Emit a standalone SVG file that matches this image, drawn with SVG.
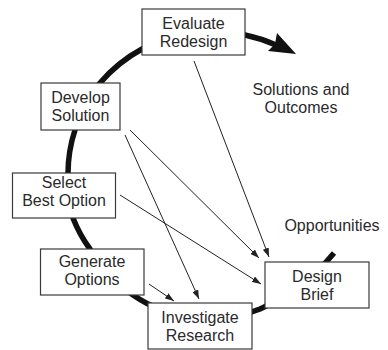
<svg xmlns="http://www.w3.org/2000/svg" width="388" height="350" viewBox="0 0 388 350">
<style>
.box{fill:#fff;stroke:#3a3a3a;stroke-width:1.2}
.t{font-family:"Liberation Sans",Arial,sans-serif;font-size:16px;fill:#2a2a2a;text-anchor:middle}
.conn{stroke:#222;stroke-width:1;fill:none;marker-end:url(#ah)}
.cycle{stroke:#111;stroke-width:5.5;fill:none;stroke-linecap:butt}
</style>
<defs>
<marker id="ah" viewBox="0 0 10 7" markerWidth="9" markerHeight="6.3" refX="10" refY="3.5" orient="auto" markerUnits="userSpaceOnUse">
<path d="M0,0 L10,3.5 L0,7 z" fill="#222"/>
</marker>
</defs>
<g id="cycle">
<path class="cycle" d="M334,253 A200,200 0 0 1 260,309 A135,135 0 0 1 133,295 A130,130 0 0 1 90,249 A132,132 0 0 1 73,218 A136,136 0 0 1 68,173 A140,140 0 0 1 75,130 A145,145 0 0 1 100,83 A148,148 0 0 1 142,49 A155,155 0 0 1 245,35 A158,158 0 0 1 276,45"/>
<polygon points="296,54 277,33 275,44 268,51" fill="#111"/>
</g>
<g id="connectors">
<line class="conn" x1="194" y1="61" x2="269" y2="257"/>
<line class="conn" x1="130" y1="130" x2="259" y2="258"/>
<line class="conn" x1="125" y1="135" x2="199" y2="299"/>
<line class="conn" x1="120" y1="195" x2="261" y2="284"/>
<line class="conn" x1="149" y1="284" x2="174" y2="301"/>
</g>
<g id="evaluate">
<rect class="box" x="142" y="9" width="103" height="46"/>
<text class="t" x="193.5" y="29">Evaluate</text>
<text class="t" x="193.5" y="47">Redesign</text>
</g>
<g id="develop">
<rect class="box" x="41" y="83" width="79" height="47"/>
<text class="t" x="80.5" y="102.5">Develop</text>
<text class="t" x="80.5" y="120.5">Solution</text>
</g>
<g id="select">
<rect class="box" x="12.5" y="173" width="103" height="45"/>
<text class="t" x="64" y="187.5">Select</text>
<text class="t" x="64" y="205.5">Best Option</text>
</g>
<g id="generate">
<rect class="box" x="40.5" y="249" width="103.5" height="46"/>
<text class="t" x="92" y="266.5">Generate</text>
<text class="t" x="92" y="284.5">Options</text>
</g>
<g id="investigate">
<rect class="box" x="148" y="303" width="104" height="46"/>
<text class="t" x="200" y="323">Investigate</text>
<text class="t" x="200" y="341">Research</text>
</g>
<g id="brief">
<rect class="box" x="265" y="262" width="104" height="46"/>
<text class="t" x="317" y="281.5">Design</text>
<text class="t" x="317" y="299.5">Brief</text>
</g>
<g id="labels">
<text class="t" x="301" y="95">Solutions and</text>
<text class="t" x="301" y="113">Outcomes</text>
<text class="t" x="332" y="230.5">Opportunities</text>
</g>
</svg>
